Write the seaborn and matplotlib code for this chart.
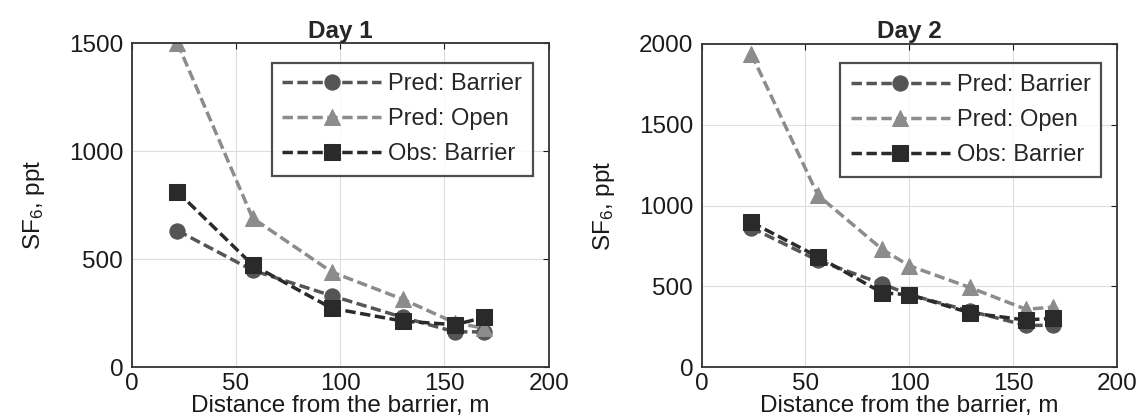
import numpy as np
import pandas as pd
import matplotlib
matplotlib.use('Agg')
import matplotlib.pyplot as plt
import seaborn as sns

sns.set_style('white')
plt.rcParams['font.family'] = ['Liberation Sans', 'DejaVu Sans']
plt.rcParams['mathtext.fontset'] = 'custom'
plt.rcParams['mathtext.rm'] = 'Liberation Sans'
plt.rcParams['mathtext.it'] = 'Liberation Sans'

# Day 1 data
day1_x = [22, 58, 96, 130, 155, 169]
day1_pred_barrier = [632, 448, 330, 230, 163, 163]
day1_pred_open = [1500, 690, 440, 314, 205, 180]
day1_obs_barrier = [812, 473, 272, 213, 196, 230]

# Day 2 data
day2_x = [24, 56, 87, 100, 129, 156, 169]
day2_pred_barrier = [862, 660, 515, 448, 347, 258, 258]
day2_pred_open = [1937, 1064, 728, 627, 493, 358, 370]
day2_obs_barrier = [896, 683, 459, 448, 336, 291, 302]

series_names = ['Pred: Barrier', 'Pred: Open', 'Obs: Barrier']
series_colors = ['#555555', '#8c8c8c', '#2a2a2a']
series_markers = ['o', '^', 's']

days = [
    ('Day 1', day1_x, [day1_pred_barrier, day1_pred_open, day1_obs_barrier], 1500, [0, 500, 1000, 1500]),
    ('Day 2', day2_x, [day2_pred_barrier, day2_pred_open, day2_obs_barrier], 2000, [0, 500, 1000, 1500, 2000]),
]

fig = plt.figure(figsize=(11.4, 4.19), dpi=100)
positions = [[0.1154, 0.124, 0.366, 0.773], [0.6154, 0.124, 0.3646, 0.771]]

for pos, (title, x, ys, ymax, yticks) in zip(positions, days):
    ax = fig.add_axes(pos)
    for name, y, c, m in zip(series_names, ys, series_colors, series_markers):
        df = pd.DataFrame({'x': x, 'y': y})
        sns.lineplot(data=df, x='x', y='y', ax=ax, color=c, marker=m,
                     markersize=11, markeredgecolor=c, linewidth=2.5,
                     linestyle=(0, (3, 1.3)), label=name)
    ax.set_xlim(0, 200)
    ax.set_ylim(0, ymax)
    ax.set_xticks([0, 50, 100, 150, 200])
    ax.set_yticks(yticks)
    ax.grid(True, color='#dddddd', linewidth=0.8)
    ax.tick_params(direction='in', top=True, right=True, labelsize=17.5,
                   colors='#1a1a1a', length=4, pad=6)
    ax.tick_params(axis='x', pad=4)
    for s in ax.spines.values():
        s.set_color('#333333')
        s.set_linewidth(1.3)
    ax.set_title(title, fontsize=17.5, fontweight='bold', pad=4)
    ax.set_xlabel('Distance from the barrier, m', fontsize=17.5, color='#1a1a1a', labelpad=0)
    ax.set_ylabel('SF$_6$, ppt', fontsize=17.5, color='#1a1a1a', labelpad=16)
    leg = ax.legend(loc='upper right', fontsize=17, handlelength=4.2,
                    frameon=True, fancybox=False, edgecolor='#222222',
                    borderpad=0.45, labelspacing=0.55, handletextpad=0.3,
                    borderaxespad=0, bbox_to_anchor=(0.962, 0.94))
    leg.get_frame().set_linewidth(1.6)

fig.savefig('out.png', dpi=100)
